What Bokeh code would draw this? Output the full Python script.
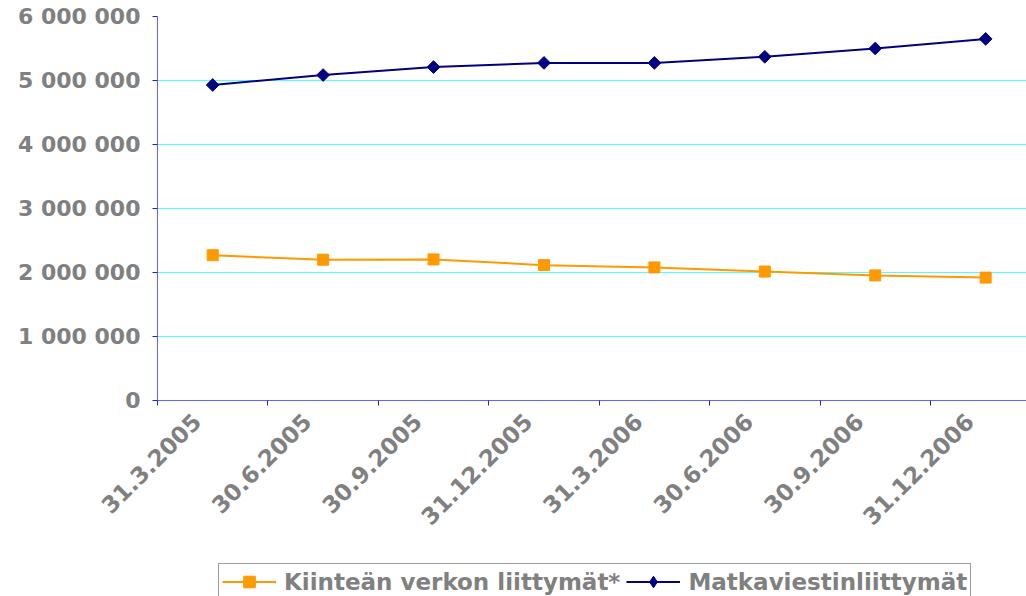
import numpy as np
from bokeh.plotting import figure
from bokeh.layouts import column
from bokeh.models import FixedTicker, Legend, LegendItem, Range1d, ColumnDataSource
from bokeh.embed import file_html
from bokeh.resources import INLINE

categories = ["31.3.2005", "30.6.2005", "30.9.2005", "31.12.2005",
              "31.3.2006", "30.6.2006", "30.9.2006", "31.12.2006"]
kiintea = [2270000, 2200000, 2205000, 2115000, 2080000, 2015000, 1955000, 1920000]
matka = [4930000, 5085000, 5210000, 5275000, 5275000, 5370000, 5500000, 5650000]
y_ticks = [0, 1000000, 2000000, 3000000, 4000000, 5000000, 6000000]
y_tick_labels = ["0", "1 000 000", "2 000 000", "3 000 000", "4 000 000", "5 000 000", "6 000 000"]
series_names = ["Kiinteän verkon liittymät*", "Matkaviestinliittymät"]

ORANGE = "#FF9900"
NAVY = "#000080"
GRAY = "#808080"
FONT = "DejaVu Sans"
LABEL_SHIFT = 0.145  # rotated labels sit a little left of the category centre

xs = [i + 0.5 for i in range(len(categories))]
src = ColumnDataSource(dict(x=xs, k=kiintea, m=matka))

p = figure(width=1026, height=556, output_backend="svg", toolbar_location=None,
           x_range=Range1d(0, 7.87), y_range=Range1d(0, 6000000),
           min_border_left=157, min_border_right=0, min_border_top=16, min_border_bottom=156)
p.outline_line_color = None
p.xgrid.visible = False
p.ygrid.grid_line_color = "#4dffff"
p.ygrid.grid_line_width = 1

p.line("x", "k", source=src, line_color=ORANGE, line_width=2)
p.scatter("x", "k", source=src, marker="square", size=11, fill_color=ORANGE, line_color=ORANGE)
p.line("x", "m", source=src, line_color=NAVY, line_width=2)
p.scatter("x", "m", source=src, marker="square", angle=np.pi / 4, size=9,
          fill_color=NAVY, line_color=NAVY)

label_ticks = [x - LABEL_SHIFT for x in xs]
xa = p.xaxis[0]
xa.ticker = FixedTicker(ticks=label_ticks, minor_ticks=list(range(len(categories) + 1)))
xa.major_label_overrides = {x: c for x, c in zip(label_ticks, categories)}
xa.major_tick_out = 0
xa.major_tick_in = 0
xa.minor_tick_out = 5
xa.minor_tick_in = 0
xa.minor_tick_line_color = "#2020e0"
xa.axis_line_color = "#6464ff"
xa.major_label_orientation = np.pi / 4
xa.major_label_text_font = FONT
xa.major_label_text_font_style = "bold"
xa.major_label_text_font_size = "23px"
xa.major_label_text_color = GRAY
xa.major_label_standoff = 12

ya = p.yaxis[0]
ya.ticker = FixedTicker(ticks=y_ticks, minor_ticks=[])
ya.major_label_overrides = {t: l for t, l in zip(y_ticks, y_tick_labels)}
ya.major_tick_out = 5
ya.major_tick_in = 0
ya.major_tick_line_color = "#2020e0"
ya.axis_line_color = "#6464ff"
ya.major_label_text_font = FONT
ya.major_label_text_font_style = "bold"
ya.major_label_text_font_size = "22px"
ya.major_label_text_color = GRAY
ya.major_label_standoff = 12

# legend strip below the chart (its renderers lie outside its ranges, only the legend shows)
q = figure(width=1026, height=40, output_backend="svg", toolbar_location=None,
           x_range=Range1d(100, 101), y_range=Range1d(100, 101),
           x_axis_location=None, y_axis_location=None,
           min_border_left=0, min_border_right=0, min_border_top=0, min_border_bottom=0)
q.outline_line_color = None
q.grid.visible = False
l1 = q.line("x", "k", source=src, line_color=ORANGE, line_width=2)
s1 = q.scatter("x", "k", source=src, marker="square", size=11, fill_color=ORANGE, line_color=ORANGE)
l2 = q.line("x", "m", source=src, line_color=NAVY, line_width=2)
s2 = q.scatter("x", "m", source=src, marker="diamond", size=13, fill_color=NAVY, line_color=NAVY)

legend = Legend(items=[LegendItem(label=series_names[0], renderers=[l1, s1]),
                       LegendItem(label=series_names[1], renderers=[l2, s2])],
                orientation="horizontal", location=(61, -4))
legend.label_text_font = FONT
legend.label_text_font_style = "bold"
legend.label_text_font_size = "23px"
legend.label_text_color = GRAY
legend.glyph_width = 54
legend.glyph_height = 29
legend.label_standoff = 8
legend.spacing = 6
legend.padding = 3
legend.margin = 0
legend.border_line_color = "#404040"
legend.border_line_width = 1
legend.background_fill_alpha = 0
q.add_layout(legend, "center")

layout = column(p, q, spacing=0)
open("out.html", "w").write(file_html(layout, INLINE))
